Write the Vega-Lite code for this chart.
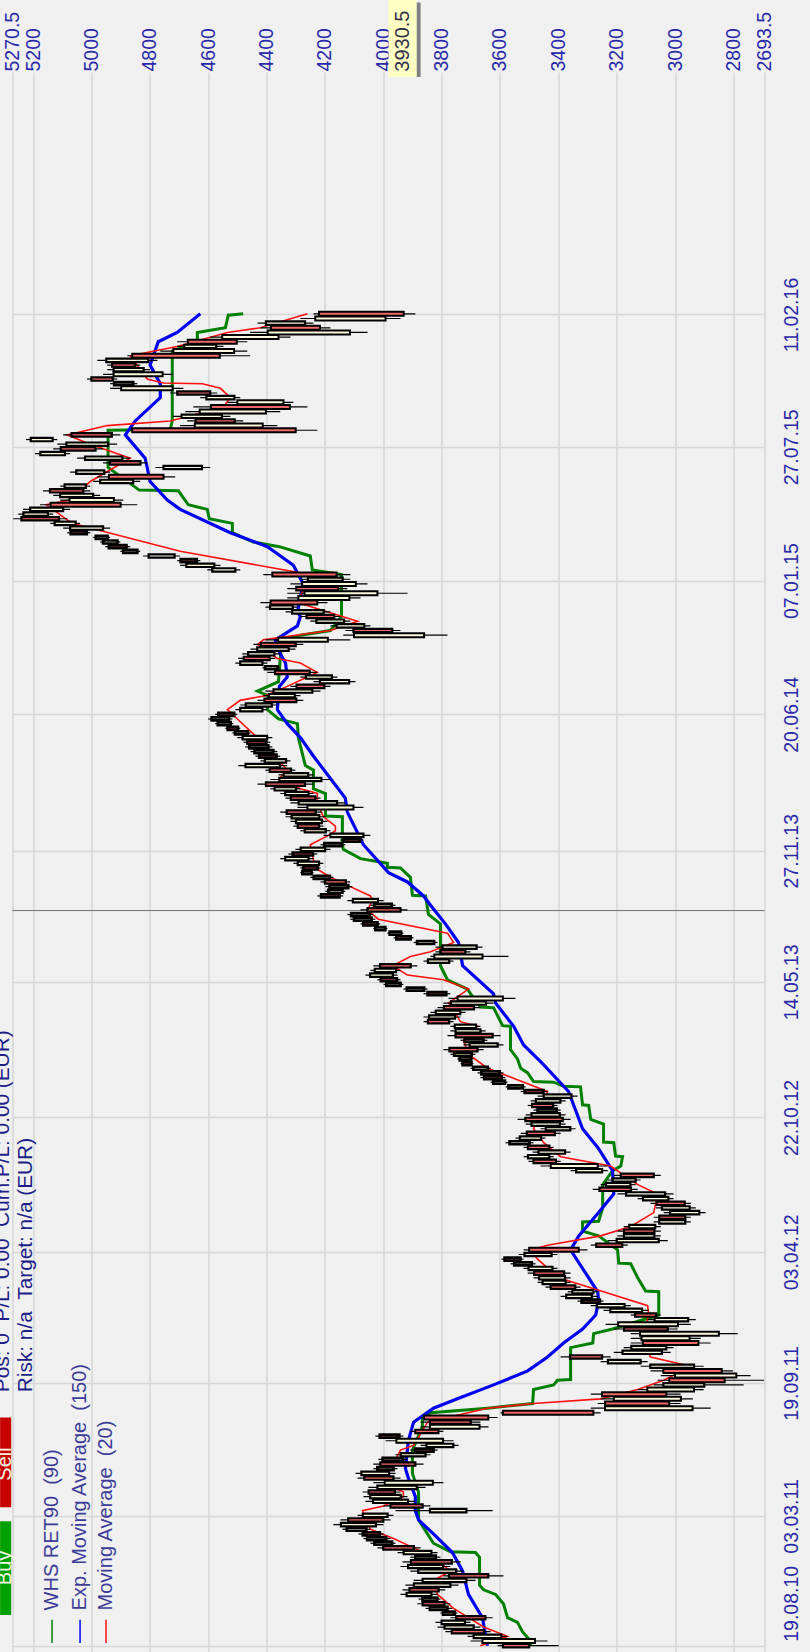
{"$schema":"https://vega.github.io/schema/vega-lite/v6.json","width":752,"height":1580,"autosize":"none","padding":{"left":12.5,"top":72,"right":45.5,"bottom":0},"background":"#f0f0f0","view":{"stroke":null},"config":{"font":"Liberation Sans"},
"datasets":{
"candles":[
{"d":"2010-08-20","h":3608,"l":3399,"o":3590,"c":3500},
{"d":"2010-08-27","h":3701,"l":3437,"o":3480,"c":3660},
{"d":"2010-09-03","h":3711,"l":3574,"o":3595,"c":3690},
{"d":"2010-09-10","h":3787,"l":3632,"o":3765,"c":3655},
{"d":"2010-09-17","h":3814,"l":3667,"o":3690,"c":3790},
{"d":"2010-09-24","h":3821,"l":3701,"o":3720,"c":3800},
{"d":"2010-10-01","h":3770,"l":3625,"o":3750,"c":3650},
{"d":"2010-10-08","h":3804,"l":3746,"o":3755,"c":3795},
{"d":"2010-10-15","h":3855,"l":3763,"o":3780,"c":3840},
{"d":"2010-10-22","h":3883,"l":3770,"o":3865,"c":3790},
{"d":"2010-10-29","h":3879,"l":3804,"o":3815,"c":3865},
{"d":"2010-11-05","h":3941,"l":3814,"o":3835,"c":3920},
{"d":"2010-11-12","h":3934,"l":3787,"o":3910,"c":3810},
{"d":"2010-11-19","h":3924,"l":3742,"o":3770,"c":3895},
{"d":"2010-11-26","h":3896,"l":3684,"o":3715,"c":3865},
{"d":"2010-12-03","h":3794,"l":3588,"o":3775,"c":3640},
{"d":"2010-12-10","h":3907,"l":3725,"o":3750,"c":3880},
{"d":"2010-12-17","h":3941,"l":3770,"o":3795,"c":3915},
{"d":"2010-12-24","h":3934,"l":3735,"o":3905,"c":3765},
{"d":"2010-12-31","h":3907,"l":3804,"o":3820,"c":3890},
{"d":"2011-01-07","h":3951,"l":3814,"o":3835,"c":3930},
{"d":"2011-01-14","h":4020,"l":3872,"o":4000,"c":3895},
{"d":"2011-01-21","h":4044,"l":3958,"o":3970,"c":4030},
{"d":"2011-01-28","h":4068,"l":3975,"o":3990,"c":4055},
{"d":"2011-02-04","h":4085,"l":3999,"o":4070,"c":4012},
{"d":"2011-02-11","h":4140,"l":4044,"o":4058,"c":4125},
{"d":"2011-02-18","h":4171,"l":3999,"o":4025,"c":4145},
{"d":"2011-02-25","h":4147,"l":3975,"o":4120,"c":4000},
{"d":"2011-03-04","h":4088,"l":3965,"o":3985,"c":4070},
{"d":"2011-03-11","h":3958,"l":3625,"o":3715,"c":3840},
{"d":"2011-03-18","h":3999,"l":3838,"o":3975,"c":3865},
{"d":"2011-03-25","h":4061,"l":3890,"o":3915,"c":4035},
{"d":"2011-04-01","h":4068,"l":3917,"o":3940,"c":4045},
{"d":"2011-04-08","h":4071,"l":3941,"o":4050,"c":3960},
{"d":"2011-04-15","h":4051,"l":3855,"o":3885,"c":4020},
{"d":"2011-04-22","h":4034,"l":3794,"o":3830,"c":3995},
{"d":"2011-04-29","h":4088,"l":3941,"o":4065,"c":3965},
{"d":"2011-05-06","h":4095,"l":3958,"o":3980,"c":4075},
{"d":"2011-05-13","h":4034,"l":3951,"o":3965,"c":4020},
{"d":"2011-05-20","h":4034,"l":3862,"o":4010,"c":3890},
{"d":"2011-05-27","h":4017,"l":3917,"o":3932,"c":4002},
{"d":"2011-06-03","h":3958,"l":3838,"o":3855,"c":3940},
{"d":"2011-06-10","h":3907,"l":3814,"o":3890,"c":3828},
{"d":"2011-06-17","h":3872,"l":3742,"o":3760,"c":3852},
{"d":"2011-06-24","h":3992,"l":3759,"o":3795,"c":3955},
{"d":"2011-07-01","h":4027,"l":3931,"o":4012,"c":3945},
{"d":"2011-07-08","h":3907,"l":3794,"o":3890,"c":3811},
{"d":"2011-07-15","h":3872,"l":3639,"o":3670,"c":3840},
{"d":"2011-07-22","h":3872,"l":3667,"o":3840,"c":3700},
{"d":"2011-07-29","h":3872,"l":3608,"o":3860,"c":3640},
{"d":"2011-08-05","h":3598,"l":3255,"o":3590,"c":3280},
{"d":"2011-08-12","h":3289,"l":2878,"o":2940,"c":3240},
{"d":"2011-08-19","h":3265,"l":2981,"o":3240,"c":3020},
{"d":"2011-08-26","h":3255,"l":2939,"o":2980,"c":3210},
{"d":"2011-09-02","h":3289,"l":2981,"o":3250,"c":3030},
{"d":"2011-09-09","h":3128,"l":2902,"o":2935,"c":3095},
{"d":"2011-09-16","h":3073,"l":2765,"o":2900,"c":3040},
{"d":"2011-09-23","h":3060,"l":2695,"o":3020,"c":2830},
{"d":"2011-09-30","h":3049,"l":2741,"o":2790,"c":3000},
{"d":"2011-10-07","h":3084,"l":2802,"o":3040,"c":2840},
{"d":"2011-10-14","h":3118,"l":2902,"o":2935,"c":3085},
{"d":"2011-10-21","h":3255,"l":3094,"o":3118,"c":3230},
{"d":"2011-10-28","h":3392,"l":3221,"o":3360,"c":3250},
{"d":"2011-11-04","h":3210,"l":3015,"o":3045,"c":3180},
{"d":"2011-11-11","h":3176,"l":3005,"o":3030,"c":3150},
{"d":"2011-11-18","h":3152,"l":2878,"o":3110,"c":2920},
{"d":"2011-11-25","h":3152,"l":2912,"o":2950,"c":3115},
{"d":"2011-12-02","h":3152,"l":2785,"o":2850,"c":3120},
{"d":"2011-12-09","h":3210,"l":2991,"o":3175,"c":3025},
{"d":"2011-12-16","h":3238,"l":2946,"o":2990,"c":3195},
{"d":"2011-12-23","h":3094,"l":2929,"o":2955,"c":3070},
{"d":"2011-12-30","h":3152,"l":3049,"o":3137,"c":3065},
{"d":"2012-01-06","h":3245,"l":3090,"o":3113,"c":3222},
{"d":"2012-01-13","h":3289,"l":3152,"o":3173,"c":3268},
{"d":"2012-01-20","h":3334,"l":3245,"o":3320,"c":3258},
{"d":"2012-01-27","h":3392,"l":3265,"o":3285,"c":3373},
{"d":"2012-02-03","h":3368,"l":3265,"o":3280,"c":3352},
{"d":"2012-02-10","h":3444,"l":3324,"o":3426,"c":3342},
{"d":"2012-02-17","h":3471,"l":3358,"o":3375,"c":3454},
{"d":"2012-02-24","h":3485,"l":3358,"o":3377,"c":3466},
{"d":"2012-03-02","h":3505,"l":3358,"o":3483,"c":3380},
{"d":"2012-03-09","h":3519,"l":3403,"o":3420,"c":3502},
{"d":"2012-03-16","h":3564,"l":3478,"o":3491,"c":3551},
{"d":"2012-03-23","h":3595,"l":3519,"o":3584,"c":3530},
{"d":"2012-03-30","h":3536,"l":3403,"o":3423,"c":3516},
{"d":"2012-04-06","h":3519,"l":3300,"o":3500,"c":3330},
{"d":"2012-04-13","h":3289,"l":3162,"o":3270,"c":3181},
{"d":"2012-04-20","h":3231,"l":3025,"o":3056,"c":3200},
{"d":"2012-04-27","h":3197,"l":3049,"o":3071,"c":3175},
{"d":"2012-05-04","h":3197,"l":3049,"o":3175,"c":3071},
{"d":"2012-05-11","h":3176,"l":3049,"o":3068,"c":3157},
{"d":"2012-05-18","h":3073,"l":2946,"o":2965,"c":3054},
{"d":"2012-05-25","h":3073,"l":2946,"o":3054,"c":2965},
{"d":"2012-06-01","h":3039,"l":2895,"o":2917,"c":3017},
{"d":"2012-06-08","h":3066,"l":2929,"o":2950,"c":3045},
{"d":"2012-06-15","h":3084,"l":2946,"o":3063,"c":2967},
{"d":"2012-06-22","h":3128,"l":3005,"o":3023,"c":3110},
{"d":"2012-06-29","h":3197,"l":3005,"o":3034,"c":3168},
{"d":"2012-07-06","h":3282,"l":3128,"o":3259,"c":3151},
{"d":"2012-07-13","h":3255,"l":3135,"o":3153,"c":3237},
{"d":"2012-07-20","h":3231,"l":3118,"o":3135,"c":3214},
{"d":"2012-07-27","h":3210,"l":3049,"o":3186,"c":3073},
{"d":"2012-08-03","h":3358,"l":3231,"o":3250,"c":3339},
{"d":"2012-08-10","h":3461,"l":3231,"o":3265,"c":3426},
{"d":"2012-08-17","h":3502,"l":3392,"o":3485,"c":3408},
{"d":"2012-08-24","h":3519,"l":3416,"o":3431,"c":3504},
{"d":"2012-08-31","h":3488,"l":3358,"o":3377,"c":3468},
{"d":"2012-09-07","h":3519,"l":3416,"o":3504,"c":3431},
{"d":"2012-09-14","h":3581,"l":3485,"o":3499,"c":3567},
{"d":"2012-09-21","h":3547,"l":3444,"o":3459,"c":3532},
{"d":"2012-09-28","h":3529,"l":3392,"o":3508,"c":3412},
{"d":"2012-10-05","h":3461,"l":3341,"o":3359,"c":3443},
{"d":"2012-10-12","h":3512,"l":3375,"o":3395,"c":3492},
{"d":"2012-10-19","h":3540,"l":3358,"o":3513,"c":3385},
{"d":"2012-10-26","h":3512,"l":3375,"o":3395,"c":3492},
{"d":"2012-11-02","h":3485,"l":3392,"o":3406,"c":3471},
{"d":"2012-11-09","h":3505,"l":3403,"o":3490,"c":3418},
{"d":"2012-11-16","h":3495,"l":3375,"o":3393,"c":3477},
{"d":"2012-11-23","h":3471,"l":3334,"o":3355,"c":3450},
{"d":"2012-11-30","h":3529,"l":3437,"o":3515,"c":3451},
{"d":"2012-12-07","h":3581,"l":3512,"o":3522,"c":3571},
{"d":"2012-12-14","h":3632,"l":3574,"o":3583,"c":3623},
{"d":"2012-12-21","h":3667,"l":3581,"o":3654,"c":3594},
{"d":"2012-12-28","h":3677,"l":3588,"o":3601,"c":3664},
{"d":"2013-01-04","h":3701,"l":3632,"o":3642,"c":3691},
{"d":"2013-01-11","h":3735,"l":3691,"o":3728,"c":3698},
{"d":"2013-01-18","h":3746,"l":3691,"o":3699,"c":3738},
{"d":"2013-01-25","h":3770,"l":3684,"o":3697,"c":3757},
{"d":"2013-02-01","h":3794,"l":3656,"o":3773,"c":3677},
{"d":"2013-02-08","h":3725,"l":3588,"o":3608,"c":3704},
{"d":"2013-02-15","h":3735,"l":3643,"o":3657,"c":3721},
{"d":"2013-02-22","h":3780,"l":3598,"o":3752,"c":3625},
{"d":"2013-03-01","h":3770,"l":3649,"o":3667,"c":3752},
{"d":"2013-03-08","h":3770,"l":3667,"o":3682,"c":3755},
{"d":"2013-03-15","h":3862,"l":3759,"o":3847,"c":3774},
{"d":"2013-03-22","h":3862,"l":3735,"o":3754,"c":3843},
{"d":"2013-03-29","h":3838,"l":3718,"o":3736,"c":3820},
{"d":"2013-04-05","h":3814,"l":3667,"o":3792,"c":3689},
{"d":"2013-04-12","h":3794,"l":3622,"o":3648,"c":3768},
{"d":"2013-04-19","h":3776,"l":3547,"o":3590,"c":3745},
{"d":"2013-04-26","h":3862,"l":3770,"o":3848,"c":3784},
{"d":"2013-05-03","h":3931,"l":3848,"o":3860,"c":3919},
{"d":"2013-05-10","h":3999,"l":3931,"o":3941,"c":3989},
{"d":"2013-05-17","h":4020,"l":3941,"o":4008,"c":3953},
{"d":"2013-05-24","h":4061,"l":3951,"o":3967,"c":4045},
{"d":"2013-05-31","h":4044,"l":3941,"o":3956,"c":4029},
{"d":"2013-06-07","h":4034,"l":3883,"o":4011,"c":3906},
{"d":"2013-06-14","h":3862,"l":3759,"o":3774,"c":3847},
{"d":"2013-06-21","h":3838,"l":3571,"o":3660,"c":3825},
{"d":"2013-06-28","h":3821,"l":3701,"o":3803,"c":3719},
{"d":"2013-07-05","h":3821,"l":3660,"o":3680,"c":3797},
{"d":"2013-07-12","h":3896,"l":3814,"o":3826,"c":3884},
{"d":"2013-07-19","h":3965,"l":3896,"o":3955,"c":3906},
{"d":"2013-07-26","h":3986,"l":3931,"o":3939,"c":3978},
{"d":"2013-08-02","h":4034,"l":3986,"o":3993,"c":4027},
{"d":"2013-08-09","h":4078,"l":4010,"o":4068,"c":4020},
{"d":"2013-08-16","h":4113,"l":4027,"o":4040,"c":4100},
{"d":"2013-08-23","h":4123,"l":4034,"o":4047,"c":4110},
{"d":"2013-08-30","h":4078,"l":3917,"o":4054,"c":3941},
{"d":"2013-09-06","h":4044,"l":3958,"o":3971,"c":4031},
{"d":"2013-09-13","h":4123,"l":3999,"o":4018,"c":4104},
{"d":"2013-09-20","h":4226,"l":4137,"o":4213,"c":4150},
{"d":"2013-09-27","h":4198,"l":4130,"o":4140,"c":4188},
{"d":"2013-10-04","h":4198,"l":4106,"o":4120,"c":4184},
{"d":"2013-10-11","h":4215,"l":4113,"o":4200,"c":4128},
{"d":"2013-10-18","h":4250,"l":4171,"o":4183,"c":4238},
{"d":"2013-10-25","h":4284,"l":4239,"o":4246,"c":4277},
{"d":"2013-11-01","h":4284,"l":4215,"o":4274,"c":4225},
{"d":"2013-11-08","h":4308,"l":4205,"o":4220,"c":4293},
{"d":"2013-11-15","h":4353,"l":4239,"o":4256,"c":4336},
{"d":"2013-11-22","h":4325,"l":4226,"o":4310,"c":4241},
{"d":"2013-11-29","h":4301,"l":4181,"o":4199,"c":4283},
{"d":"2013-12-06","h":4215,"l":4130,"o":4143,"c":4202},
{"d":"2013-12-13","h":4147,"l":4068,"o":4135,"c":4080},
{"d":"2013-12-20","h":4205,"l":4044,"o":4068,"c":4181},
{"d":"2013-12-27","h":4284,"l":4181,"o":4197,"c":4269},
{"d":"2014-01-03","h":4308,"l":4205,"o":4293,"c":4220},
{"d":"2014-01-10","h":4318,"l":4191,"o":4210,"c":4299},
{"d":"2014-01-17","h":4335,"l":4198,"o":4219,"c":4314},
{"d":"2014-01-24","h":4353,"l":4209,"o":4331,"c":4231},
{"d":"2014-01-31","h":4294,"l":4068,"o":4102,"c":4260},
{"d":"2014-02-07","h":4318,"l":4130,"o":4158,"c":4290},
{"d":"2014-02-14","h":4335,"l":4215,"o":4317,"c":4233},
{"d":"2014-02-21","h":4353,"l":4239,"o":4256,"c":4336},
{"d":"2014-02-28","h":4387,"l":4284,"o":4299,"c":4372},
{"d":"2014-03-07","h":4431,"l":4239,"o":4402,"c":4268},
{"d":"2014-03-14","h":4387,"l":4181,"o":4212,"c":4356},
{"d":"2014-03-21","h":4359,"l":4239,"o":4257,"c":4341},
{"d":"2014-03-28","h":4404,"l":4301,"o":4389,"c":4316},
{"d":"2014-04-04","h":4497,"l":4329,"o":4354,"c":4472},
{"d":"2014-04-11","h":4421,"l":4318,"o":4333,"c":4406},
{"d":"2014-04-18","h":4438,"l":4353,"o":4425,"c":4366},
{"d":"2014-04-25","h":4455,"l":4363,"o":4377,"c":4441},
{"d":"2014-05-02","h":4473,"l":4380,"o":4394,"c":4459},
{"d":"2014-05-09","h":4479,"l":4387,"o":4465,"c":4401},
{"d":"2014-05-16","h":4500,"l":4380,"o":4398,"c":4482},
{"d":"2014-05-23","h":4517,"l":4455,"o":4464,"c":4508},
{"d":"2014-05-30","h":4541,"l":4490,"o":4533,"c":4498},
{"d":"2014-06-06","h":4576,"l":4514,"o":4523,"c":4567},
{"d":"2014-06-13","h":4600,"l":4517,"o":4529,"c":4588},
{"d":"2014-06-20","h":4576,"l":4500,"o":4565,"c":4511},
{"d":"2014-06-27","h":4507,"l":4397,"o":4414,"c":4490},
{"d":"2014-07-04","h":4490,"l":4363,"o":4382,"c":4471},
{"d":"2014-07-11","h":4431,"l":4274,"o":4407,"c":4298},
{"d":"2014-07-18","h":4411,"l":4284,"o":4303,"c":4392},
{"d":"2014-07-25","h":4404,"l":4215,"o":4243,"c":4376},
{"d":"2014-08-01","h":4318,"l":4181,"o":4297,"c":4202},
{"d":"2014-08-08","h":4239,"l":4095,"o":4117,"c":4217},
{"d":"2014-08-15","h":4284,"l":4157,"o":4176,"c":4265},
{"d":"2014-08-22","h":4397,"l":4226,"o":4371,"c":4252},
{"d":"2014-08-29","h":4414,"l":4353,"o":4362,"c":4405},
{"d":"2014-09-05","h":4507,"l":4397,"o":4414,"c":4490},
{"d":"2014-09-12","h":4497,"l":4370,"o":4478,"c":4389},
{"d":"2014-09-19","h":4483,"l":4353,"o":4373,"c":4463},
{"d":"2014-09-26","h":4455,"l":4301,"o":4324,"c":4432},
{"d":"2014-10-03","h":4445,"l":4274,"o":4419,"c":4300},
{"d":"2014-10-10","h":4404,"l":4113,"o":4190,"c":4360},
{"d":"2014-10-17","h":4137,"l":3780,"o":3860,"c":4100},
{"d":"2014-10-24","h":4130,"l":3941,"o":4102,"c":3969},
{"d":"2014-10-31","h":4181,"l":4044,"o":4065,"c":4160},
{"d":"2014-11-07","h":4250,"l":4113,"o":4134,"c":4229},
{"d":"2014-11-14","h":4284,"l":4147,"o":4263,"c":4168},
{"d":"2014-11-21","h":4335,"l":4181,"o":4204,"c":4312},
{"d":"2014-11-28","h":4404,"l":4294,"o":4310,"c":4388},
{"d":"2014-12-05","h":4421,"l":4191,"o":4386,"c":4226},
{"d":"2014-12-12","h":4329,"l":4078,"o":4116,"c":4291},
{"d":"2014-12-19","h":4329,"l":3917,"o":4020,"c":4270},
{"d":"2014-12-26","h":4329,"l":4123,"o":4298,"c":4154},
{"d":"2015-01-02","h":4318,"l":4054,"o":4094,"c":4278},
{"d":"2015-01-09","h":4284,"l":4113,"o":4139,"c":4258},
{"d":"2015-01-16","h":4411,"l":4113,"o":4380,"c":4160},
{"d":"2015-01-23","h":4603,"l":4490,"o":4507,"c":4586},
{"d":"2015-01-30","h":4696,"l":4558,"o":4579,"c":4675},
{"d":"2015-02-06","h":4706,"l":4627,"o":4694,"c":4639},
{"d":"2015-02-13","h":4823,"l":4696,"o":4715,"c":4804},
{"d":"2015-02-20","h":4901,"l":4833,"o":4843,"c":4891},
{"d":"2015-02-27","h":4953,"l":4867,"o":4940,"c":4880},
{"d":"2015-03-06","h":4970,"l":4901,"o":4911,"c":4960},
{"d":"2015-03-13","h":4994,"l":4936,"o":4945,"c":4985},
{"d":"2015-03-20","h":5083,"l":5004,"o":5071,"c":5016},
{"d":"2015-03-27","h":5097,"l":4936,"o":4960,"c":5073},
{"d":"2015-04-03","h":5141,"l":5039,"o":5054,"c":5126},
{"d":"2015-04-10","h":5268,"l":5083,"o":5240,"c":5111},
{"d":"2015-04-17","h":5251,"l":5131,"o":5149,"c":5233},
{"d":"2015-04-24","h":5234,"l":5073,"o":5097,"c":5210},
{"d":"2015-05-01","h":5176,"l":4843,"o":5140,"c":4900},
{"d":"2015-05-08","h":5107,"l":4891,"o":4923,"c":5075},
{"d":"2015-05-15","h":5131,"l":4970,"o":4994,"c":5107},
{"d":"2015-05-22","h":5166,"l":5004,"o":5142,"c":5028},
{"d":"2015-05-29","h":5107,"l":5004,"o":5019,"c":5092},
{"d":"2015-06-05","h":4994,"l":4833,"o":4857,"c":4970},
{"d":"2015-06-12","h":4980,"l":4713,"o":4940,"c":4753},
{"d":"2015-06-19","h":5073,"l":4936,"o":4956,"c":5052},
{"d":"2015-06-26","h":4781,"l":4593,"o":4621,"c":4753},
{"d":"2015-07-03","h":4960,"l":4809,"o":4937,"c":4832},
{"d":"2015-07-10","h":5049,"l":4867,"o":4894,"c":5022},
{"d":"2015-07-17","h":5193,"l":5073,"o":5091,"c":5175},
{"d":"2015-07-24","h":5131,"l":4960,"o":5105,"c":4986},
{"d":"2015-07-31","h":5117,"l":4912,"o":4943,"c":5086},
{"d":"2015-08-07","h":5224,"l":5117,"o":5133,"c":5208},
{"d":"2015-08-14","h":5097,"l":4901,"o":5068,"c":4930},
{"d":"2015-08-21","h":4867,"l":4226,"o":4860,"c":4300},
{"d":"2015-08-28","h":4696,"l":4363,"o":4413,"c":4646},
{"d":"2015-09-04","h":4672,"l":4480,"o":4643,"c":4509},
{"d":"2015-09-11","h":4720,"l":4524,"o":4553,"c":4691},
{"d":"2015-09-18","h":4678,"l":4353,"o":4402,"c":4629},
{"d":"2015-09-25","h":4651,"l":4260,"o":4590,"c":4320},
{"d":"2015-10-02","h":4534,"l":4308,"o":4342,"c":4500},
{"d":"2015-10-09","h":4627,"l":4490,"o":4510,"c":4606},
{"d":"2015-10-16","h":4730,"l":4569,"o":4706,"c":4593},
{"d":"2015-10-23","h":4936,"l":4685,"o":4722,"c":4898},
{"d":"2015-10-30","h":4936,"l":4843,"o":4857,"c":4922},
{"d":"2015-11-06","h":5015,"l":4912,"o":5000,"c":4927},
{"d":"2015-11-13","h":4960,"l":4720,"o":4756,"c":4924},
{"d":"2015-11-20","h":4946,"l":4799,"o":4821,"c":4924},
{"d":"2015-11-27","h":4946,"l":4833,"o":4929,"c":4850},
{"d":"2015-12-04","h":4980,"l":4774,"o":4805,"c":4949},
{"d":"2015-12-11","h":4877,"l":4456,"o":4860,"c":4560},
{"d":"2015-12-18","h":4764,"l":4466,"o":4511,"c":4719},
{"d":"2015-12-25","h":4706,"l":4548,"o":4572,"c":4682},
{"d":"2016-01-01","h":4706,"l":4466,"o":4670,"c":4502},
{"d":"2016-01-08","h":4593,"l":4318,"o":4359,"c":4552},
{"d":"2016-01-15","h":4456,"l":4054,"o":4114,"c":4396},
{"d":"2016-01-22","h":4421,"l":4181,"o":4385,"c":4217},
{"d":"2016-01-29","h":4431,"l":4239,"o":4268,"c":4402},
{"d":"2016-02-05","h":4284,"l":3941,"o":3992,"c":4233},
{"d":"2016-02-12","h":4239,"l":3890,"o":4220,"c":3930}
],
"whs":[
{"d":"2010-08-20","v":3495},{"d":"2010-08-27","v":3495},{"d":"2010-09-10","v":3523},{"d":"2010-09-24","v":3540},{"d":"2010-10-01","v":3574},{"d":"2010-10-22","v":3588},{"d":"2010-11-05","v":3615},{"d":"2010-11-12","v":3656},{"d":"2010-11-19","v":3670},{"d":"2010-12-31","v":3670},{"d":"2011-01-07","v":3684},{"d":"2011-01-08","v":3770},{"d":"2011-01-21","v":3828},{"d":"2011-02-25","v":3879},{"d":"2011-04-08","v":3879},{"d":"2011-05-06","v":3900},{"d":"2011-06-10","v":3900},{"d":"2011-07-15","v":3866},{"d":"2011-07-29","v":3866},{"d":"2011-08-05","v":3838},{"d":"2011-08-12","v":3643},{"d":"2011-08-19","v":3488},{"d":"2011-09-09","v":3485},{"d":"2011-09-16","v":3416},{"d":"2011-09-23","v":3403},{"d":"2011-09-24","v":3358},{"d":"2011-11-11","v":3358},{"d":"2011-11-18","v":3282},{"d":"2011-12-02","v":3279},{"d":"2011-12-09","v":3214},{"d":"2011-12-30","v":3056},{"d":"2012-02-03","v":3056},{"d":"2012-02-04","v":3101},{"d":"2012-02-24","v":3128},{"d":"2012-03-16","v":3152},{"d":"2012-03-17","v":3193},{"d":"2012-04-06","v":3197},{"d":"2012-04-27","v":3262},{"d":"2012-05-04","v":3317},{"d":"2012-05-18","v":3317},{"d":"2012-05-19","v":3262},{"d":"2012-06-08","v":3248},{"d":"2012-07-13","v":3248},{"d":"2012-08-03","v":3214},{"d":"2012-08-10","v":3186},{"d":"2012-08-24","v":3180},{"d":"2012-08-25","v":3204},{"d":"2012-09-14","v":3210},{"d":"2012-09-15","v":3245},{"d":"2012-10-12","v":3245},{"d":"2012-10-19","v":3289},{"d":"2012-11-09","v":3296},{"d":"2012-11-10","v":3317},{"d":"2012-12-07","v":3324},{"d":"2012-12-08","v":3382},{"d":"2012-12-14","v":3416},{"d":"2012-12-15","v":3485},{"d":"2012-12-28","v":3505},{"d":"2013-01-04","v":3529},{"d":"2013-01-18","v":3540},{"d":"2013-02-01","v":3564},{"d":"2013-03-08","v":3564},{"d":"2013-03-09","v":3591},{"d":"2013-04-05","v":3622},{"d":"2013-04-06","v":3667},{"d":"2013-04-26","v":3701},{"d":"2013-05-03","v":3711},{"d":"2013-05-17","v":3780},{"d":"2013-06-07","v":3804},{"d":"2013-08-09","v":3804},{"d":"2013-08-23","v":3845},{"d":"2013-09-20","v":3855},{"d":"2013-09-21","v":3900},{"d":"2013-10-18","v":3907},{"d":"2013-11-01","v":3941},{"d":"2013-11-02","v":3986},{"d":"2013-11-08","v":3986},{"d":"2013-11-15","v":4078},{"d":"2013-11-29","v":4137},{"d":"2013-12-06","v":4140},{"d":"2014-01-17","v":4140},{"d":"2014-01-18","v":4198},{"d":"2014-02-21","v":4198},{"d":"2014-02-28","v":4239},{"d":"2014-03-28","v":4239},{"d":"2014-04-04","v":4267},{"d":"2014-05-16","v":4291},{"d":"2014-06-06","v":4294},{"d":"2014-06-13","v":4359},{"d":"2014-06-27","v":4397},{"d":"2014-07-18","v":4394},{"d":"2014-07-25","v":4431},{"d":"2014-08-08","v":4359},{"d":"2014-09-12","v":4353},{"d":"2014-10-10","v":4346},{"d":"2014-10-17","v":4284},{"d":"2014-10-24","v":4181},{"d":"2014-11-14","v":4143},{"d":"2015-01-16","v":4143},{"d":"2015-01-23","v":4243},{"d":"2015-02-13","v":4250},{"d":"2015-02-27","v":4356},{"d":"2015-03-06","v":4445},{"d":"2015-03-20","v":4517},{"d":"2015-04-03","v":4517},{"d":"2015-04-10","v":4596},{"d":"2015-04-24","v":4603},{"d":"2015-05-01","v":4668},{"d":"2015-05-22","v":4702},{"d":"2015-05-23","v":4836},{"d":"2015-06-26","v":4943},{"d":"2015-08-21","v":4943},{"d":"2015-08-22","v":4730},{"d":"2015-09-04","v":4723},{"d":"2015-12-18","v":4723},{"d":"2016-01-01","v":4637},{"d":"2016-01-15","v":4637},{"d":"2016-01-22","v":4541},{"d":"2016-02-10","v":4531},{"d":"2016-02-12","v":4480}
],
"ema":[
{"d":"2010-08-20","v":3643},{"d":"2010-10-01","v":3660},{"d":"2010-11-05","v":3708},{"d":"2010-12-10","v":3728},{"d":"2011-01-07","v":3763},{"d":"2011-02-04","v":3828},{"d":"2011-02-25","v":3879},{"d":"2011-03-11","v":3890},{"d":"2011-04-01","v":3890},{"d":"2011-04-29","v":3914},{"d":"2011-05-13","v":3924},{"d":"2011-06-24","v":3914},{"d":"2011-07-22","v":3896},{"d":"2011-08-12","v":3828},{"d":"2011-08-26","v":3746},{"d":"2011-09-16","v":3622},{"d":"2011-10-07","v":3505},{"d":"2011-10-28","v":3437},{"d":"2011-11-18","v":3382},{"d":"2011-12-09","v":3317},{"d":"2011-12-30","v":3272},{"d":"2012-01-20","v":3262},{"d":"2012-02-03","v":3265},{"d":"2012-03-30","v":3348},{"d":"2012-04-06","v":3358},{"d":"2012-04-27","v":3330},{"d":"2012-06-01","v":3262},{"d":"2012-06-29","v":3210},{"d":"2012-08-03","v":3214},{"d":"2012-09-07","v":3265},{"d":"2012-10-05","v":3317},{"d":"2012-11-30","v":3365},{"d":"2013-01-11","v":3454},{"d":"2013-02-08","v":3519},{"d":"2013-03-08","v":3553},{"d":"2013-04-12","v":3615},{"d":"2013-04-26","v":3622},{"d":"2013-06-07","v":3728},{"d":"2013-07-12","v":3742},{"d":"2013-08-09","v":3787},{"d":"2013-09-06","v":3838},{"d":"2013-09-20","v":3862},{"d":"2013-10-11","v":3917},{"d":"2013-10-25","v":3982},{"d":"2013-12-06","v":4068},{"d":"2014-01-24","v":4123},{"d":"2014-02-14","v":4130},{"d":"2014-04-18","v":4239},{"d":"2014-05-16","v":4284},{"d":"2014-06-06","v":4329},{"d":"2014-06-27","v":4363},{"d":"2014-08-01","v":4356},{"d":"2014-08-15","v":4329},{"d":"2014-09-05","v":4335},{"d":"2014-09-19","v":4353},{"d":"2014-10-10","v":4370},{"d":"2014-10-31","v":4294},{"d":"2014-11-14","v":4284},{"d":"2014-11-21","v":4294},{"d":"2015-01-02","v":4274},{"d":"2015-01-30","v":4308},{"d":"2015-02-27","v":4397},{"d":"2015-03-20","v":4524},{"d":"2015-04-24","v":4696},{"d":"2015-05-08","v":4740},{"d":"2015-06-05","v":4799},{"d":"2015-06-26","v":4809},{"d":"2015-07-10","v":4816},{"d":"2015-08-14","v":4884},{"d":"2015-09-04","v":4850},{"d":"2015-10-09","v":4764},{"d":"2015-10-30","v":4764},{"d":"2015-11-27","v":4799},{"d":"2016-01-01","v":4771},{"d":"2016-01-15","v":4706},{"d":"2016-02-12","v":4627}
],
"ma":[
{"d":"2010-08-20","v":3667},{"d":"2010-09-03","v":3574},{"d":"2010-09-17","v":3656},{"d":"2010-10-15","v":3759},{"d":"2010-11-05","v":3814},{"d":"2010-11-26","v":3828},{"d":"2010-12-10","v":3770},{"d":"2010-12-31","v":3828},{"d":"2011-01-14","v":3896},{"d":"2011-01-28","v":3965},{"d":"2011-02-11","v":4044},{"d":"2011-03-11","v":4071},{"d":"2011-03-18","v":3999},{"d":"2011-04-01","v":3931},{"d":"2011-04-08","v":3931},{"d":"2011-04-15","v":3965},{"d":"2011-04-29","v":3992},{"d":"2011-06-10","v":3941},{"d":"2011-06-17","v":3896},{"d":"2011-07-22","v":3848},{"d":"2011-08-12","v":3643},{"d":"2011-08-19","v":3485},{"d":"2011-08-26","v":3255},{"d":"2011-09-09","v":3128},{"d":"2011-09-23","v":3039},{"d":"2011-10-14","v":2946},{"d":"2011-10-28","v":3084},{"d":"2011-11-25","v":3111},{"d":"2011-12-30","v":3090},{"d":"2012-01-13","v":3094},{"d":"2012-02-03","v":3245},{"d":"2012-02-24","v":3399},{"d":"2012-03-23","v":3471},{"d":"2012-04-06","v":3495},{"d":"2012-04-13","v":3437},{"d":"2012-04-27","v":3255},{"d":"2012-05-11","v":3152},{"d":"2012-06-01","v":3073},{"d":"2012-06-29","v":3060},{"d":"2012-07-13","v":3128},{"d":"2012-08-10","v":3221},{"d":"2012-08-24","v":3392},{"d":"2012-09-14","v":3450},{"d":"2012-10-05","v":3485},{"d":"2012-11-30","v":3437},{"d":"2013-01-04","v":3643},{"d":"2013-01-25","v":3708},{"d":"2013-02-15","v":3725},{"d":"2013-03-08","v":3677},{"d":"2013-03-15","v":3735},{"d":"2013-04-12","v":3776},{"d":"2013-05-03","v":3708},{"d":"2013-05-17","v":3794},{"d":"2013-05-24","v":3917},{"d":"2013-06-07","v":3968},{"d":"2013-06-21","v":3907},{"d":"2013-06-28","v":3838},{"d":"2013-07-12","v":3759},{"d":"2013-07-26","v":3780},{"d":"2013-08-16","v":4017},{"d":"2013-08-30","v":4054},{"d":"2013-09-13","v":4037},{"d":"2013-09-20","v":4044},{"d":"2013-10-04","v":4113},{"d":"2013-10-18","v":4181},{"d":"2013-11-01","v":4233},{"d":"2013-12-06","v":4250},{"d":"2013-12-20","v":4188},{"d":"2013-12-27","v":4164},{"d":"2014-01-03","v":4164},{"d":"2014-01-17","v":4205},{"d":"2014-02-07","v":4226},{"d":"2014-02-21","v":4226},{"d":"2014-02-28","v":4284},{"d":"2014-03-14","v":4359},{"d":"2014-03-28","v":4329},{"d":"2014-05-09","v":4411},{"d":"2014-05-23","v":4449},{"d":"2014-06-13","v":4500},{"d":"2014-06-27","v":4534},{"d":"2014-07-11","v":4490},{"d":"2014-07-18","v":4404},{"d":"2014-08-01","v":4329},{"d":"2014-08-15","v":4260},{"d":"2014-08-22","v":4226},{"d":"2014-09-05","v":4284},{"d":"2014-09-12","v":4363},{"d":"2014-10-03","v":4431},{"d":"2014-10-10","v":4411},{"d":"2014-10-24","v":4181},{"d":"2014-11-07","v":4088},{"d":"2014-12-05","v":4294},{"d":"2015-01-16","v":4250},{"d":"2015-02-20","v":4696},{"d":"2015-03-27","v":5004},{"d":"2015-04-03","v":5066},{"d":"2015-05-01","v":5155},{"d":"2015-05-08","v":5073},{"d":"2015-06-05","v":5004},{"d":"2015-07-10","v":4867},{"d":"2015-07-31","v":5004},{"d":"2015-08-14","v":5083},{"d":"2015-08-28","v":4946},{"d":"2015-09-04","v":4730},{"d":"2015-09-25","v":4548},{"d":"2015-10-09","v":4524},{"d":"2015-10-23","v":4558},{"d":"2015-10-30","v":4620},{"d":"2015-10-31","v":4754},{"d":"2015-11-06","v":4809},{"d":"2015-12-11","v":4867},{"d":"2015-12-25","v":4706},{"d":"2016-01-15","v":4534},{"d":"2016-01-22","v":4421},{"d":"2016-02-12","v":4260}
],
"panels":[
{"b":"Buy","p1":5313,"p2":5275,"d":"2010-10-05","d2":"2011-02-23"},
{"b":"Sell","p1":5313,"p2":5275,"d":"2011-03-16","d2":"2011-07-29"},
{"b":"shadow","p1":3886,"p2":3872,"d":"2017-02-02","d2":"2017-05-25"},
{"b":"tip","p1":3982,"p2":3886,"d":"2017-02-02","d2":"2017-06-01"}
],
"keys":[
{"b":"WHS RET90","p":5135,"d":"2010-08-24","d2":"2010-09-28"},
{"b":"Exp. Moving Average","p":5039,"d":"2010-08-24","d2":"2010-09-28"},
{"b":"Moving Average","p":4950,"d":"2010-08-24","d2":"2010-09-28"}
],
"notes":[
{"t":"Pos: 0 \u00a0P/L: 0.00 \u00a0Cum.P/L: 0.00 (EUR)","k":"info","p":5303,"d":"2011-09-05"},
{"t":"Risk: n/a \u00a0Target: n/a (EUR)","k":"info","p":5224,"d":"2011-09-05"},
{"t":"WHS RET90 \u00a0(90)","k":"key","p":5135,"d":"2010-10-12"},
{"t":"Exp. Moving Average \u00a0(150)","k":"key","p":5039,"d":"2010-10-12"},
{"t":"Moving Average \u00a0(20)","k":"key","p":4950,"d":"2010-10-12"},
{"t":"Sell","k":"button","p":5296,"d":"2011-04-25"},
{"t":"Buy","k":"button","p":5296,"d":"2010-11-19"},
{"t":"3930.5","k":"tip","p":3934,"d":"2017-02-10"}
]
},
"layer":[
{"data":{"name":"candles"},"mark":{"type":"rule","opacity":0},
"encoding":{
"x":{"field":"h","type":"quantitative","scale":{"domain":[5270.5,2693.5],"nice":false,"zero":false},
"axis":{"orient":"top","values":[5270.5,5200,5000,4800,4600,4400,4200,4000,3800,3600,3400,3200,3000,2800,2693.5],"format":".1~f","title":null,"labelAngle":270,"labelFontSize":19.5,"labelFont":"Liberation Sans","labelColor":"#2a2aa8","labelOverlap":false,"labelBound":false,"labelFlush":false,"labelPadding":1,"ticks":false,"domain":false,"grid":true,"gridColor":"#d6d6d6","gridWidth":1.5}},
"y":{"field":"d","type":"temporal","scale":{"type":"utc","domain":["2010-08-18","2017-02-02"],"nice":false},
"axis":{"orient":"right","values":[{"year":2010,"month":8,"date":19,"utc":true},{"year":2011,"month":3,"date":3,"utc":true},{"year":2011,"month":9,"date":19,"utc":true},{"year":2012,"month":4,"date":3,"utc":true},{"year":2012,"month":10,"date":22,"utc":true},{"year":2013,"month":5,"date":14,"utc":true},{"year":2013,"month":11,"date":27,"utc":true},{"year":2014,"month":6,"date":20,"utc":true},{"year":2015,"month":1,"date":7,"utc":true},{"year":2015,"month":7,"date":27,"utc":true},{"year":2016,"month":2,"date":11,"utc":true}],"format":"%d.%m.%y","title":null,"labelAngle":270,"labelFontSize":19.5,"labelFont":"Liberation Sans","labelColor":"#2a2aa8","labelOverlap":false,"labelBound":false,"labelFlush":false,"labelPadding":18,"labelOffset":{"condition":{"test":"datum.label == '19.08.10'","value":-43},"value":0},"ticks":false,"domain":false,"grid":true,"gridColor":"#d6d6d6","gridWidth":1.5}}
}},
{"data":{"values":[{"d":"2013-08-29","a":5270.5,"b":2693.5}]},"mark":{"type":"rule","color":"#707070","strokeWidth":1},"encoding":{"x":{"field":"a","type":"quantitative"},"x2":{"field":"b"},"y":{"field":"d","type":"temporal"}}},
{"data":{"name":"whs"},"mark":{"type":"line","color":"#008000","strokeWidth":3,"interpolate":"linear"},"encoding":{"x":{"field":"v","type":"quantitative"},"y":{"field":"d","type":"temporal"}}},
{"data":{"name":"ema"},"mark":{"type":"line","color":"#0000f0","strokeWidth":3.2},"encoding":{"x":{"field":"v","type":"quantitative"},"y":{"field":"d","type":"temporal"}}},
{"data":{"name":"ma"},"mark":{"type":"line","color":"#ff1010","strokeWidth":1.6},"encoding":{"x":{"field":"v","type":"quantitative"},"y":{"field":"d","type":"temporal"}}},
{"data":{"name":"candles"},"mark":{"type":"rule","color":"#000000","strokeWidth":1.2},"encoding":{"x":{"field":"h","type":"quantitative"},"x2":{"field":"l"},"y":{"field":"d","type":"temporal"}}},
{"data":{"name":"candles"},"mark":{"type":"bar","orient":"horizontal","stroke":"#000000"},"encoding":{"x":{"field":"o","type":"quantitative"},"x2":{"field":"c"},"y":{"field":"d","type":"temporal"},"size":{"condition":[{"test":"abs(datum.o-datum.c)>150","value":4},{"test":"abs(datum.o-datum.c)>70","value":3.4}],"value":3},"strokeWidth":{"condition":[{"test":"abs(datum.o-datum.c)>150","value":2},{"test":"abs(datum.o-datum.c)>70","value":2.2}],"value":2.7},"fill":{"condition":{"test":"datum.c>datum.o","value":"#fbf8de"},"value":"#f06868"}}},
{"data":{"name":"panels"},"mark":{"type":"rect"},"encoding":{"x":{"field":"p1","type":"quantitative"},"x2":{"field":"p2"},"y":{"field":"d","type":"temporal"},"y2":{"field":"d2"},"color":{"field":"b","type":"nominal","legend":null,"scale":{"domain":["Buy","Sell","shadow","tip","WHS RET90","Exp. Moving Average","Moving Average"],"range":["#00a000","#c80000","#808080","#ffffc4","#008000","#0000f0","#ff1010"]}}}},
{"data":{"name":"keys"},"mark":{"type":"rule","strokeWidth":1.5},"encoding":{"x":{"field":"p","type":"quantitative"},"y":{"field":"d","type":"temporal"},"y2":{"field":"d2"},"color":{"field":"b","type":"nominal","legend":null,"scale":{"domain":["Buy","Sell","shadow","tip","WHS RET90","Exp. Moving Average","Moving Average"],"range":["#00a000","#c80000","#808080","#ffffc4","#008000","#0000f0","#ff1010"]}}}},
{"data":{"name":"notes"},"mark":{"type":"text","angle":270,"align":"left","baseline":"middle","font":"Liberation Sans"},"encoding":{"x":{"field":"p","type":"quantitative"},"y":{"field":"d","type":"temporal"},"text":{"field":"t"},"size":{"condition":{"test":"datum.k=='info'","value":20.8},"value":20},"fill":{"field":"k","type":"nominal","legend":null,"scale":{"domain":["info","key","button","tip"],"range":["#1e1e88","#3c3c98","#f4f4e0","#30304a"]}}}}
]}
